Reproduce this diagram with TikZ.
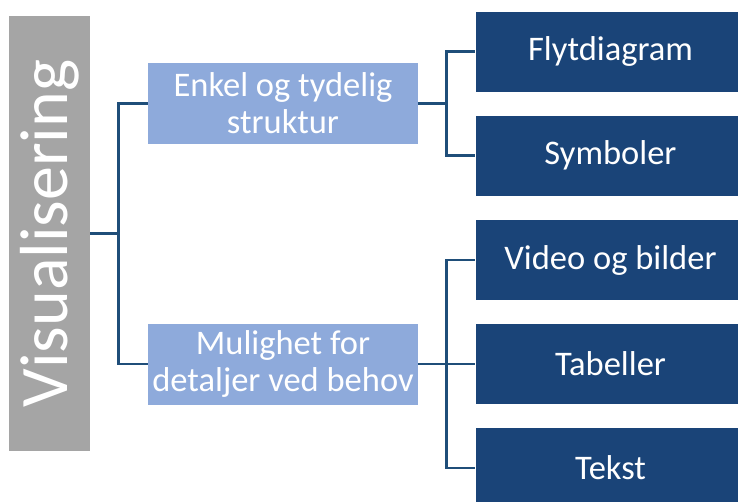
\documentclass[tikz,border=0pt]{standalone}
\usepackage{fontspec}
\setmainfont{Carlito}
\usepackage{tikz}
\usetikzlibrary{calc,positioning}

\definecolor{grayhead}{HTML}{A5A5A5}
\definecolor{lightblue}{HTML}{8EAADB}
\definecolor{darkblue}{HTML}{1A4478}
\definecolor{linkblue}{HTML}{1F4E79}

\tikzset{
  headbox/.style={fill=grayhead, text=white, inner sep=0pt,
    minimum width=435pt, minimum height=81pt, font=\fontsize{68}{70}\selectfont},
  midbox/.style={fill=lightblue, text=white, inner sep=0pt, align=center,
    minimum width=270pt, minimum height=81pt, font=\fontsize{34.5}{37}\selectfont},
  leafbox/.style={fill=darkblue, text=white, inner sep=0pt,
    minimum width=270pt, minimum height=80pt, font=\fontsize{34.5}{36}\selectfont},
  link/.style={draw=linkblue, line width=2.6pt}
}

\begin{document}
\begin{tikzpicture}[x=1pt,y=1pt]
  \useasboundingbox (0,0) rectangle (738,-501);
  \clip (0,0) rectangle (738,-501);
  % main heading, standing on its side
  \node[headbox, rotate=90] (vis) at (49.75,-233.5) {Visualisering};
  % the two branches
  \node[midbox] (enkel) at (283,-103.5) {Enkel og tydelig\\struktur};
  \node[midbox] (mulig) at (283,-364) {Mulighet for\\detaljer ved behov};
  % leaves (they run past the right edge)
  \node[leafbox] (flyt)  at (610.5,-51.7) {Flytdiagram};
  \node[leafbox] (symb)  at (610.5,-155.5) {Symboler};
  \node[leafbox] (video) at (610.5,-260) {Video og bilder};
  \node[leafbox] (tab)   at (610.5,-364) {Tabeller};
  \node[leafbox] (tekst) at (610.5,-468) {Tekst};
  % trunks
  \coordinate (ta) at (118.5,-233.5);
  \coordinate (tb) at (446.7,-103.5);
  \coordinate (tc) at (446.7,-364);
  \draw[link] (vis.south) -- (ta) |- (enkel.west);
  \draw[link] (ta) |- (mulig.west);
  \draw[link] (enkel.east) -- (tb) |- (flyt.west);
  \draw[link] (tb) |- (symb.west);
  \draw[link] (mulig.east) -- (tc) -- (tab.west);
  \draw[link] (tc) |- (video.west);
  \draw[link] (tc) |- (tekst.west);
\end{tikzpicture}
\end{document}
